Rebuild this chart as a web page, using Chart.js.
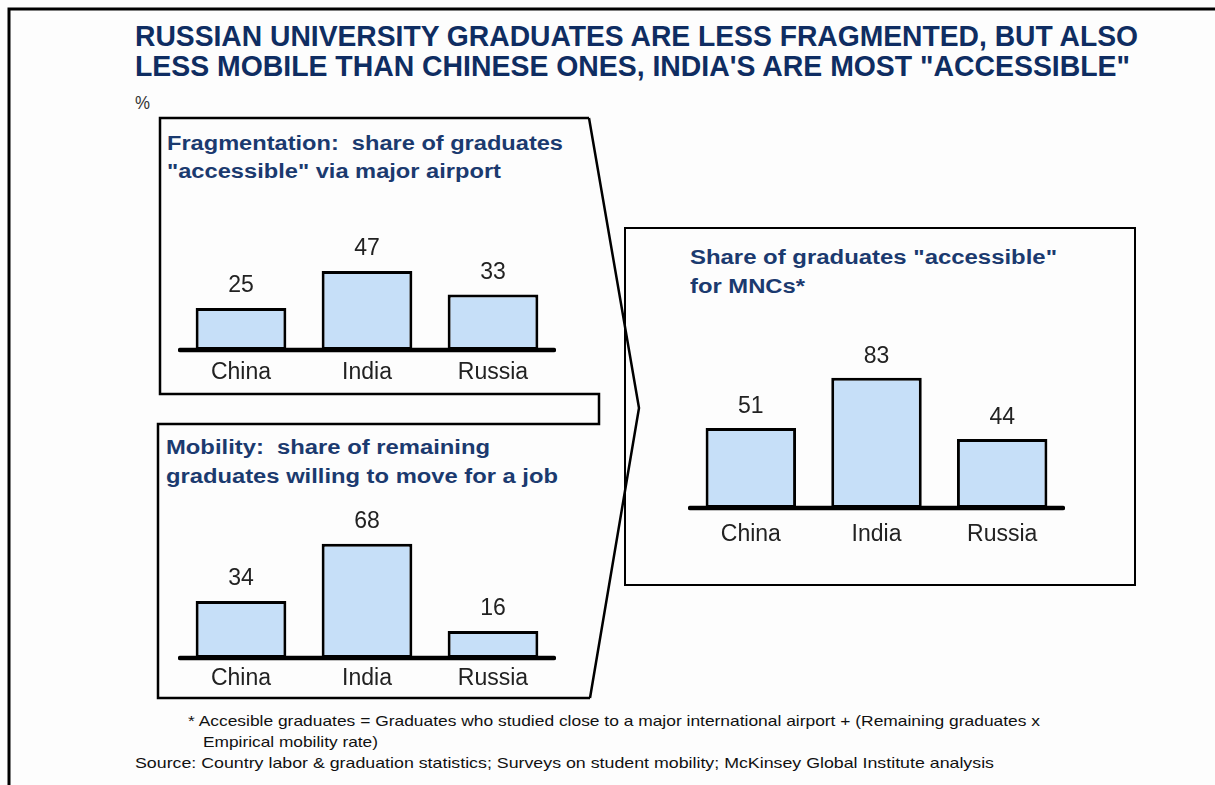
<!DOCTYPE html>
<html>
<head>
<meta charset="utf-8">
<script src="https://cdn.jsdelivr.net/npm/chart.js@4.4.1/dist/chart.umd.min.js"></script>
<style>
  html, body { margin: 0; padding: 0; background: #fdfdfd; }
  body { width: 1215px; height: 785px; position: relative; overflow: hidden;
         font-family: "Liberation Sans", Arial, sans-serif; }
  .t { position: absolute; white-space: pre; line-height: 1; transform-origin: 0 0; }
  .main { font: bold 29px "Liberation Sans Narrow", "Liberation Sans", sans-serif; color: #0f2d62; }
  .panel { font: bold 20px "Liberation Sans", sans-serif; color: #1b3a6f; }
  .note { font: 15px "Liberation Sans Narrow", "Liberation Sans", sans-serif; color: #111; }
  svg { position: absolute; left: 0; top: 0; }
  canvas { position: absolute; }
</style>
</head>
<body>
<svg width="1215" height="785">
  <!-- page frame -->
  <path d="M9,785 L9,9 L1215,9" fill="none" stroke="#000" stroke-width="3"/>
  <!-- left panels joined by the funnel edge -->
  <path d="M589,118 L160,118 L160,394 L599,394 L599,424 L158,424 L158,698 L590,698"
        fill="none" stroke="#000" stroke-width="2.5"/>
  <path d="M589,118 L639,408 L590,698" fill="none" stroke="#000" stroke-width="2.5"/>
  <!-- result panel -->
  <rect x="625" y="228" width="510" height="357" fill="none" stroke="#000" stroke-width="2"/>
</svg>

<div class="t main" style="left:135px;top:20px" data-w="1003">RUSSIAN UNIVERSITY GRADUATES ARE LESS FRAGMENTED, BUT ALSO</div>
<div class="t main" style="left:135px;top:50px" data-w="995">LESS MOBILE THAN CHINESE ONES, INDIA'S ARE MOST "ACCESSIBLE"</div>
<div class="t note" style="left:135px;top:92px;font-size:19px;color:#333" data-w="15">%</div>

<div class="t panel" style="left:167px;top:132px" data-w="396">Fragmentation:  share of graduates</div>
<div class="t panel" style="left:167px;top:160px" data-w="334">"accessible" via major airport</div>

<div class="t panel" style="left:166px;top:436px" data-w="324">Mobility:  share of remaining</div>
<div class="t panel" style="left:166px;top:465px" data-w="392">graduates willing to move for a job</div>

<div class="t panel" style="left:690px;top:246px" data-w="367">Share of graduates "accessible"</div>
<div class="t panel" style="left:690px;top:275px" data-w="115">for MNCs*</div>

<div class="t note" style="left:188px;top:712px" data-w="852">* Accesible graduates = Graduates who studied close to a major international airport + (Remaining graduates x</div>
<div class="t note" style="left:203px;top:733px" data-w="175">Empirical mobility rate)</div>
<div class="t note" style="left:135px;top:754px" data-w="859">Source: Country labor &amp; graduation statistics; Surveys on student mobility; McKinsey Global Institute analysis</div>

<canvas id="frag" width="378" height="220" style="left:178px;top:180px"></canvas>
<canvas id="mob" width="378" height="208" style="left:178px;top:500px"></canvas>
<canvas id="acc" width="377" height="230" style="left:688px;top:330px"></canvas>

<script>
// Countries compared in every panel
const countries = ['China', 'India', 'Russia'];
// Share of graduates "accessible" via a major airport, %
const fragmentationShare = [25, 47, 33];
// Share of remaining graduates willing to move for a job, %
const mobilityShare = [34, 68, 16];
// Share of graduates "accessible" for MNCs, %
const accessibleShare = [51, 83, 44];

// Stretch each text line to its set width
document.querySelectorAll('.t[data-w]').forEach(el => {
  const w = el.getBoundingClientRect().width;
  const target = parseFloat(el.dataset.w);
  if (w > 0) el.style.transform = 'scaleX(' + (target / w) + ')';
});

// Baseline, value labels above bars and category names below the baseline
const barDecor = {
  id: 'barDecor',
  afterDatasetsDraw(chart, args, opts) {
    const { ctx, chartArea } = chart;
    ctx.save();
    ctx.strokeStyle = '#000';
    ctx.lineWidth = 4.5;
    ctx.lineCap = 'round';
    ctx.beginPath();
    ctx.moveTo(chartArea.left + 2, chartArea.bottom);
    ctx.lineTo(chartArea.right - 2, chartArea.bottom);
    ctx.stroke();

    ctx.fillStyle = '#222';
    ctx.font = '23px "Liberation Sans", Arial, sans-serif';
    ctx.textAlign = 'center';
    ctx.textBaseline = 'middle';
    const meta = chart.getDatasetMeta(0);
    const values = chart.data.datasets[0].data;
    meta.data.forEach((bar, i) => {
      ctx.fillText(String(values[i]), bar.x, bar.y - opts.valueGap);
      ctx.fillText(chart.data.labels[i], bar.x, chartArea.bottom + opts.labelGap);
    });
    ctx.restore();
  }
};

function makeBarChart(id, values, yMax, padBottom, valueGap, labelGap) {
  return new Chart(document.getElementById(id), {
    type: 'bar',
    data: {
      labels: countries,
      datasets: [{
        data: values,
        backgroundColor: '#c6dff8',
        borderColor: '#000',
        borderWidth: 3,
        borderSkipped: false,
        barPercentage: 0.72,
        categoryPercentage: 1.0
      }]
    },
    options: {
      responsive: false,
      devicePixelRatio: 1,
      animation: false,
      layout: { padding: { top: 0, left: 0, right: 0, bottom: padBottom } },
      scales: {
        x: { display: false },
        y: { display: false, min: 0, max: yMax }
      },
      plugins: {
        legend: { display: false },
        tooltip: { enabled: false },
        barDecor: { valueGap: valueGap, labelGap: labelGap }
      }
    },
    plugins: [barDecor]
  });
}

makeBarChart('frag', fragmentationShare, 170 / 1.68, 50, 22, 23);
makeBarChart('mob', mobilityShare, 158 / 1.68, 50, 22, 21);
makeBarChart('acc', accessibleShare, 178 / 1.57, 52, 21, 27);
</script>
</body>
</html>
